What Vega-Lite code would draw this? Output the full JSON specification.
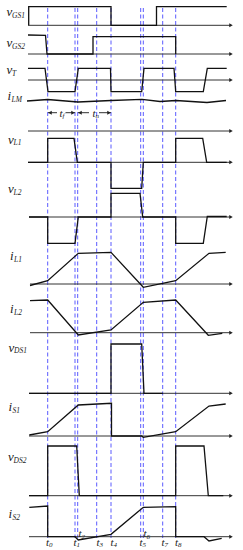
{
  "$schema": "https://vega.github.io/schema/vega-lite/v6.json",
  "width": 243,
  "height": 550,
  "padding": 0,
  "autosize": {"type": "fit", "contains": "padding"},
  "config": {"view": {"stroke": null}},
  "datasets": {
    "signals": [
      {"s":"vGS1","i":1,"t":28.7,"lv":25.3},{"s":"vGS1","i":2,"t":28.7,"lv":6.7},{"s":"vGS1","i":3,"t":111,"lv":6.7},{"s":"vGS1","i":4,"t":111,"lv":25.3},{"s":"vGS1","i":5,"t":156.5,"lv":25.3},{"s":"vGS1","i":6,"t":156.5,"lv":6.7},{"s":"vGS1","i":7,"t":226.7,"lv":6.7},
      {"s":"vGS2","i":1,"t":28,"lv":35},{"s":"vGS2","i":2,"t":45.5,"lv":35.3},{"s":"vGS2","i":3,"t":47,"lv":54},{"s":"vGS2","i":4,"t":93,"lv":54},{"s":"vGS2","i":5,"t":93,"lv":36.7},{"s":"vGS2","i":6,"t":175.7,"lv":36.7},{"s":"vGS2","i":7,"t":175.7,"lv":54},
      {"s":"vT","i":1,"t":28,"lv":68.3},{"s":"vT","i":2,"t":45,"lv":68.3},{"s":"vT","i":3,"t":48,"lv":91.7},{"s":"vT","i":4,"t":75,"lv":91.7},{"s":"vT","i":5,"t":78.3,"lv":68.3},{"s":"vT","i":6,"t":110.5,"lv":68.3},{"s":"vT","i":7,"t":111,"lv":91.7},{"s":"vT","i":8,"t":141.7,"lv":91.7},{"s":"vT","i":9,"t":144,"lv":68.3},{"s":"vT","i":10,"t":174,"lv":68.3},{"s":"vT","i":11,"t":175.7,"lv":91.7},{"s":"vT","i":12,"t":203.3,"lv":91.7},{"s":"vT","i":13,"t":207.3,"lv":68.3},{"s":"vT","i":14,"t":226.7,"lv":68.3},
      {"s":"iLM","i":1,"t":27,"lv":101},{"s":"iLM","i":2,"t":47.7,"lv":99.5},{"s":"iLM","i":3,"t":78,"lv":102},{"s":"iLM","i":4,"t":111,"lv":100.5},{"s":"iLM","i":5,"t":142,"lv":99.3},{"s":"iLM","i":6,"t":160,"lv":101.5},{"s":"iLM","i":7,"t":176,"lv":100.5},{"s":"iLM","i":8,"t":207,"lv":102.5},{"s":"iLM","i":9,"t":226,"lv":100.5},
      {"s":"vL1","i":1,"t":28,"lv":162.3},{"s":"vL1","i":2,"t":47.7,"lv":162.3},{"s":"vL1","i":3,"t":47.7,"lv":138.3},{"s":"vL1","i":4,"t":74,"lv":138.3},{"s":"vL1","i":5,"t":77.3,"lv":162.3},{"s":"vL1","i":6,"t":111,"lv":162.3},{"s":"vL1","i":7,"t":111,"lv":188.3},{"s":"vL1","i":8,"t":141.7,"lv":188.3},{"s":"vL1","i":9,"t":143.3,"lv":162.3},{"s":"vL1","i":10,"t":175.7,"lv":162.3},{"s":"vL1","i":11,"t":175.7,"lv":138.3},{"s":"vL1","i":12,"t":202.7,"lv":138.3},{"s":"vL1","i":13,"t":206.7,"lv":162.3},{"s":"vL1","i":14,"t":226.7,"lv":162.3},
      {"s":"vL2","i":1,"t":29,"lv":217},{"s":"vL2","i":2,"t":47.7,"lv":217},{"s":"vL2","i":3,"t":47.7,"lv":243.3},{"s":"vL2","i":4,"t":75,"lv":243.3},{"s":"vL2","i":5,"t":78.3,"lv":217},{"s":"vL2","i":6,"t":111,"lv":217},{"s":"vL2","i":7,"t":111,"lv":193.3},{"s":"vL2","i":8,"t":140,"lv":193.3},{"s":"vL2","i":9,"t":142.7,"lv":217},{"s":"vL2","i":10,"t":175.7,"lv":217},{"s":"vL2","i":11,"t":175.7,"lv":243.3},{"s":"vL2","i":12,"t":203.3,"lv":243.3},{"s":"vL2","i":13,"t":207.3,"lv":216.5},{"s":"vL2","i":14,"t":226.7,"lv":216.5},
      {"s":"iL1","i":1,"t":30,"lv":285.5},{"s":"iL1","i":2,"t":47.7,"lv":280.7},{"s":"iL1","i":3,"t":78.3,"lv":253.3},{"s":"iL1","i":4,"t":111,"lv":252.3},{"s":"iL1","i":5,"t":143.3,"lv":287.3},{"s":"iL1","i":6,"t":175.7,"lv":280.7},{"s":"iL1","i":7,"t":209,"lv":253.3},{"s":"iL1","i":8,"t":225.7,"lv":252.3},
      {"s":"iL2","i":1,"t":30,"lv":300.7},{"s":"iL2","i":2,"t":47.7,"lv":300},{"s":"iL2","i":3,"t":78.3,"lv":335},{"s":"iL2","i":4,"t":111,"lv":330},{"s":"iL2","i":5,"t":143.3,"lv":302.3},{"s":"iL2","i":6,"t":175.7,"lv":300},{"s":"iL2","i":7,"t":208.3,"lv":335.3},{"s":"iL2","i":8,"t":222.3,"lv":333.3},
      {"s":"vDS1","i":1,"t":29,"lv":393.3},{"s":"vDS1","i":2,"t":111,"lv":393.3},{"s":"vDS1","i":3,"t":111,"lv":344},{"s":"vDS1","i":4,"t":141.7,"lv":344},{"s":"vDS1","i":5,"t":144,"lv":393.3},{"s":"vDS1","i":6,"t":162.7,"lv":393.3},
      {"s":"iS1","i":1,"t":29.3,"lv":435},{"s":"iS1","i":2,"t":47.7,"lv":431.7},{"s":"iS1","i":3,"t":78.3,"lv":405},{"s":"iS1","i":4,"t":111.5,"lv":403.3},{"s":"iS1","i":5,"t":111.5,"lv":436},{"s":"iS1","i":6,"t":141.7,"lv":436},{"s":"iS1","i":7,"t":143.3,"lv":437.3},{"s":"iS1","i":8,"t":175.7,"lv":431.7},{"s":"iS1","i":9,"t":209,"lv":406},{"s":"iS1","i":10,"t":225.7,"lv":404},
      {"s":"vDS2","i":1,"t":29,"lv":495.7},{"s":"vDS2","i":2,"t":47.7,"lv":495.7},{"s":"vDS2","i":3,"t":47.7,"lv":446},{"s":"vDS2","i":4,"t":76.7,"lv":446},{"s":"vDS2","i":5,"t":79.3,"lv":495.7},{"s":"vDS2","i":6,"t":175.7,"lv":495.7},{"s":"vDS2","i":7,"t":175.7,"lv":446},{"s":"vDS2","i":8,"t":204,"lv":446},{"s":"vDS2","i":9,"t":208.3,"lv":495.7},{"s":"vDS2","i":10,"t":223.3,"lv":495.7},
      {"s":"iS2","i":1,"t":29.3,"lv":507.3},{"s":"iS2","i":2,"t":47.7,"lv":506},{"s":"iS2","i":3,"t":47.7,"lv":536.7},{"s":"iS2","i":4,"t":75,"lv":536.7},{"s":"iS2","i":5,"t":78.3,"lv":540},{"s":"iS2","i":6,"t":111,"lv":534.3},{"s":"iS2","i":7,"t":143.3,"lv":507.3},{"s":"iS2","i":8,"t":175.7,"lv":506.7},{"s":"iS2","i":9,"t":175.7,"lv":536.7},{"s":"iS2","i":10,"t":204,"lv":536.7},{"s":"iS2","i":11,"t":209,"lv":541},{"s":"iS2","i":12,"t":221.7,"lv":538.3}
    ],
    "hlines": [
      {"a":28,"b":230,"lv":25.3},{"a":28,"b":230,"lv":54},{"a":28,"b":230,"lv":80},{"a":28,"b":230,"lv":131},{"a":28,"b":230,"lv":162.3},{"a":29,"b":230,"lv":217},{"a":30,"b":230,"lv":284},{"a":30,"b":230,"lv":332.7},{"a":29,"b":230,"lv":393.3},{"a":29,"b":230,"lv":436},{"a":29,"b":230,"lv":495.7},{"a":29,"b":230,"lv":536.7},
      {"a":48,"b":57,"lv":112.7},{"a":65.5,"b":75,"lv":112.7},{"a":78,"b":89,"lv":112.7},{"a":99,"b":111,"lv":112.7}
    ],
    "heads": [
      {"t":231,"lv":25.3,"dir":"right"},{"t":231,"lv":54,"dir":"right"},{"t":231,"lv":80,"dir":"right"},{"t":231,"lv":131,"dir":"right"},{"t":231,"lv":162.3,"dir":"right"},{"t":231,"lv":217,"dir":"right"},{"t":231,"lv":284,"dir":"right"},{"t":231,"lv":332.7,"dir":"right"},{"t":231,"lv":393.3,"dir":"right"},{"t":231,"lv":436,"dir":"right"},{"t":231,"lv":495.7,"dir":"right"},{"t":231,"lv":536.7,"dir":"right"},
      {"t":50,"lv":112.7,"dir":"left"},{"t":73,"lv":112.7,"dir":"right"},{"t":80,"lv":112.7,"dir":"left"},{"t":109,"lv":112.7,"dir":"right"}
    ],
    "instants": [
      {"t":47.7,"top":8,"bot":538},{"t":75,"top":8,"bot":538},{"t":77.7,"top":8,"bot":538},{"t":96.7,"top":8,"bot":538},{"t":111,"top":8,"bot":538},{"t":140.7,"top":8,"bot":538},{"t":143.3,"top":8,"bot":538},{"t":162.7,"top":8,"bot":538},{"t":175.7,"top":8,"bot":538}
    ],
    "vlabels": [
      {"t":6.5,"lv":16,"main":"v","sub":"GS1"},{"t":6.5,"lv":47,"main":"v","sub":"GS2"},{"t":6.5,"lv":74,"main":"v","sub":"T"},{"t":8,"lv":143.5,"main":"v","sub":"L1"},{"t":8,"lv":193,"main":"v","sub":"L2"},{"t":8.5,"lv":351.5,"main":"v","sub":"DS1"},{"t":8,"lv":461,"main":"v","sub":"DS2"}
    ],
    "ilabels": [
      {"t":7.5,"lv":100,"main":"i","sub":"LM"},{"t":10,"lv":260,"main":"i","sub":"L1"},{"t":10,"lv":313,"main":"i","sub":"L2"},{"t":8.5,"lv":411,"main":"i","sub":"S1"},{"t":8.5,"lv":518,"main":"i","sub":"S2"}
    ],
    "tlabels": [
      {"t":46,"lv":545.5,"sub":"0"},{"t":73.5,"lv":545.5,"sub":"1"},{"t":78.5,"lv":537,"sub":"2"},{"t":96.5,"lv":545.5,"sub":"3"},{"t":110.5,"lv":545.5,"sub":"4"},{"t":139.5,"lv":545.5,"sub":"5"},{"t":143.5,"lv":537,"sub":"6"},{"t":161.5,"lv":545.5,"sub":"7"},{"t":175,"lv":545.5,"sub":"8"},
      {"t":59.5,"lv":116.5,"sub":"f"},{"t":92.5,"lv":116.5,"sub":"n"}
    ]
  },
  "encoding": {
    "x": {"field": "t", "type": "quantitative", "scale": {"domain": [0, 243], "nice": false, "zero": false}, "axis": null},
    "y": {"field": "lv", "type": "quantitative", "scale": {"domain": [550, 0], "nice": false, "zero": false}, "axis": null}
  },
  "layer": [
    {
      "data": {"name": "instants"},
      "mark": {"type": "rule", "color": "#5a5aff", "strokeWidth": 1, "strokeDash": [4, 2.5]},
      "encoding": {
        "y": {"field": "top", "type": "quantitative", "scale": {"domain": [550, 0], "nice": false, "zero": false}, "axis": null},
        "y2": {"field": "bot"}
      }
    },
    {
      "data": {"name": "hlines"},
      "mark": {"type": "rule", "color": "#333333", "strokeWidth": 1},
      "encoding": {
        "x": {"field": "a", "type": "quantitative", "scale": {"domain": [0, 243], "nice": false, "zero": false}, "axis": null},
        "x2": {"field": "b"}
      }
    },
    {
      "data": {"name": "heads"},
      "mark": {"type": "point", "filled": true, "color": "#222222", "size": 16, "opacity": 1},
      "encoding": {
        "shape": {"field": "dir", "type": "nominal", "scale": {"domain": ["right", "left"], "range": ["triangle-right", "triangle-left"]}, "legend": null}
      }
    },
    {
      "data": {"name": "signals"},
      "mark": {"type": "line", "color": "#111111", "strokeWidth": 1.3, "interpolate": "linear"},
      "encoding": {
        "detail": {"field": "s", "type": "nominal"},
        "order": {"field": "i", "type": "quantitative"}
      }
    },
    {
      "data": {"name": "vlabels"},
      "mark": {"type": "text", "font": "Liberation Serif", "fontStyle": "italic", "fontSize": 13, "align": "left", "baseline": "alphabetic", "color": "#222222"},
      "encoding": {"text": {"field": "main"}}
    },
    {
      "data": {"name": "vlabels"},
      "mark": {"type": "text", "font": "Liberation Serif", "fontStyle": "italic", "fontSize": 7.5, "align": "left", "baseline": "alphabetic", "dx": 5.5, "dy": 1.5, "color": "#222222"},
      "encoding": {"text": {"field": "sub"}}
    },
    {
      "data": {"name": "ilabels"},
      "mark": {"type": "text", "font": "Liberation Serif", "fontStyle": "italic", "fontSize": 13, "align": "left", "baseline": "alphabetic", "color": "#222222"},
      "encoding": {"text": {"field": "main"}}
    },
    {
      "data": {"name": "ilabels"},
      "mark": {"type": "text", "font": "Liberation Serif", "fontStyle": "italic", "fontSize": 7.5, "align": "left", "baseline": "alphabetic", "dx": 4, "dy": 1.5, "color": "#222222"},
      "encoding": {"text": {"field": "sub"}}
    },
    {
      "data": {"name": "tlabels"},
      "mark": {"type": "text", "font": "Liberation Serif", "fontStyle": "italic", "fontSize": 11, "align": "left", "baseline": "alphabetic", "color": "#222222", "text": "t"}
    },
    {
      "data": {"name": "tlabels"},
      "mark": {"type": "text", "font": "Liberation Serif", "fontStyle": "italic", "fontSize": 7, "align": "left", "baseline": "alphabetic", "dx": 3, "dy": 1.5, "color": "#222222"},
      "encoding": {"text": {"field": "sub"}}
    }
  ]
}
